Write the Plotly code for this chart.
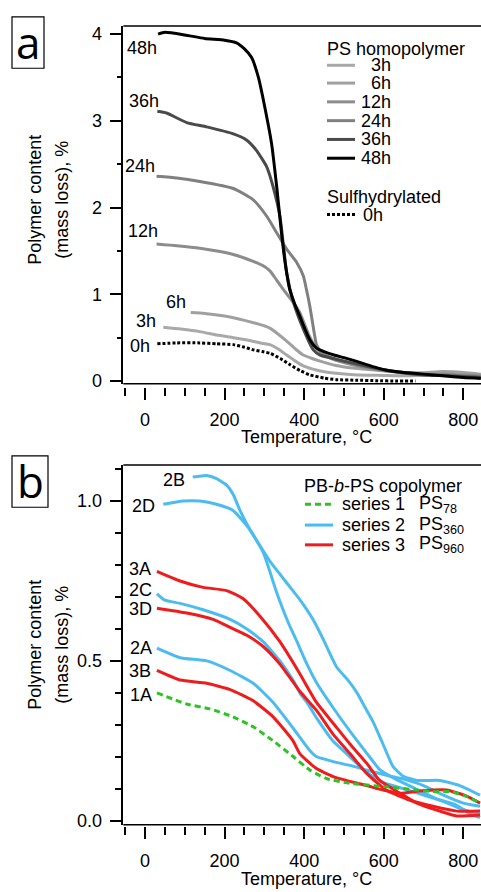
import plotly.graph_objects as go

W, H = 481, 892

# ---------------- Panel a : PS homopolymer ----------------
a_names = ["3h", "6h", "12h", "24h", "36h", "48h"]
a_colors = ["#a9a9a9", "#a0a0a0", "#8c8c8c", "#808080", "#4a4a4a", "#000000"]

a_x_3h = [46, 90, 138, 180, 222, 260, 290, 314, 335, 356, 378, 398, 420, 440, 480, 523, 600, 649, 700, 766, 844]
a_y_3h = [0.62, 0.60, 0.57, 0.53, 0.50, 0.47, 0.44, 0.42, 0.37, 0.30, 0.23, 0.175, 0.14, 0.117, 0.09, 0.073, 0.065, 0.06, 0.065, 0.07, 0.06]

a_x_6h = [115, 150, 200, 250, 290, 314, 335, 356, 378, 398, 420, 440, 480, 523, 570, 607, 650, 691, 749, 800, 844]
a_y_6h = [0.79, 0.78, 0.75, 0.70, 0.65, 0.61, 0.54, 0.46, 0.37, 0.30, 0.26, 0.23, 0.18, 0.15, 0.13, 0.115, 0.10, 0.095, 0.11, 0.10, 0.08]

a_x_12h = [29, 80, 138, 222, 272, 300, 314, 330, 347, 372, 390, 410, 430, 450, 480, 520, 560, 600, 650, 700, 760, 844]
a_y_12h = [1.58, 1.56, 1.53, 1.46, 1.38, 1.32, 1.27, 1.17, 1.06, 0.91, 0.78, 0.55, 0.38, 0.30, 0.24, 0.19, 0.15, 0.12, 0.10, 0.08, 0.08, 0.06]

a_x_24h = [29, 80, 138, 222, 272, 306, 331, 356, 381, 398, 406, 414, 423, 431, 445, 480, 520, 560, 600, 650, 700, 760, 844]
a_y_24h = [2.36, 2.34, 2.30, 2.22, 2.09, 1.90, 1.71, 1.52, 1.37, 1.21, 1.05, 0.87, 0.62, 0.42, 0.32, 0.25, 0.20, 0.16, 0.13, 0.10, 0.08, 0.07, 0.05]

a_x_36h = [31, 54, 105, 155, 222, 255, 280, 306, 322, 339, 348, 356, 373, 397, 423, 440, 473, 520, 557, 600, 640, 700, 760, 844]
a_y_36h = [3.11, 3.09, 2.98, 2.93, 2.85, 2.78, 2.66, 2.47, 2.24, 1.90, 1.56, 1.25, 0.91, 0.61, 0.36, 0.30, 0.26, 0.21, 0.17, 0.13, 0.10, 0.07, 0.06, 0.04]

a_x_48h = [33, 50, 100, 150, 200, 230, 250, 268, 285, 301, 318, 331, 343, 352, 364, 377, 389, 402, 415, 431, 450, 475, 500, 530, 557, 582, 607, 650, 700, 750, 800, 844]
a_y_48h = [4.00, 4.02, 3.99, 3.95, 3.93, 3.90, 3.83, 3.73, 3.50, 3.16, 2.74, 2.24, 1.71, 1.37, 1.05, 0.88, 0.75, 0.60, 0.47, 0.38, 0.34, 0.30, 0.27, 0.23, 0.19, 0.155, 0.125, 0.10, 0.08, 0.06, 0.04, 0.03]

a_x_0h = [31, 80, 138, 180, 222, 250, 272, 295, 314, 340, 364, 390, 415, 450, 481, 530, 580, 633, 680]
a_y_0h = [0.43, 0.44, 0.44, 0.43, 0.42, 0.39, 0.36, 0.34, 0.32, 0.26, 0.19, 0.12, 0.07, 0.035, 0.016, 0.01, 0.005, 0.0, 0.0]

a_xs = [a_x_3h, a_x_6h, a_x_12h, a_x_24h, a_x_36h, a_x_48h]
a_ys = [a_y_3h, a_y_6h, a_y_12h, a_y_24h, a_y_36h, a_y_48h]

# ---------------- Panel b : PB-b-PS copolymer ----------------
b_series_names = ["series 1", "series 2", "series 3"]
b_series_sub = ["78", "360", "960"]
b_series_colors = ["#2cc323", "#4cbcf0", "#ee1c1c"]

b_x_1A = [30, 105, 163, 221, 272, 322, 373, 415, 456, 515, 599, 683, 724, 766, 808, 842]
b_y_1A = [0.40, 0.365, 0.35, 0.325, 0.294, 0.25, 0.20, 0.158, 0.132, 0.117, 0.107, 0.096, 0.091, 0.091, 0.076, 0.055]

b_x_2A = [30, 88, 155, 214, 272, 322, 372, 414, 432, 473, 515, 558, 607, 650, 700, 750, 800, 842]
b_y_2A = [0.54, 0.51, 0.50, 0.47, 0.43, 0.37, 0.29, 0.22, 0.20, 0.185, 0.173, 0.158, 0.142, 0.13, 0.11, 0.08, 0.055, 0.045]

b_x_2B = [120, 155, 180, 205, 222, 239, 264, 289, 315, 340, 365, 390, 422, 447, 482, 510, 533, 555, 573, 598, 623, 648, 683, 741, 791, 842]
b_y_2B = [1.075, 1.08, 1.07, 1.05, 1.02, 0.97, 0.91, 0.86, 0.81, 0.77, 0.73, 0.69, 0.63, 0.57, 0.48, 0.44, 0.40, 0.35, 0.31, 0.24, 0.17, 0.14, 0.126, 0.126, 0.11, 0.08]

b_x_2C = [30, 50, 88, 146, 214, 256, 297, 339, 372, 389, 407, 432, 472, 515, 558, 598, 650, 700, 750, 800, 842]
b_y_2C = [0.71, 0.69, 0.68, 0.66, 0.63, 0.60, 0.56, 0.50, 0.44, 0.40, 0.37, 0.32, 0.25, 0.20, 0.15, 0.12, 0.10, 0.08, 0.06, 0.035, 0.02]

b_x_2D = [46, 96, 138, 180, 222, 264, 297, 332, 360, 382, 407, 432, 472, 515, 558, 590, 630, 680, 730, 780, 820, 842]
b_y_2D = [0.99, 1.0, 1.0, 0.99, 0.97, 0.91, 0.84, 0.71, 0.62, 0.56, 0.49, 0.43, 0.355, 0.28, 0.21, 0.16, 0.13, 0.10, 0.07, 0.05, 0.02, 0.01]

b_x_3A = [30, 88, 146, 205, 246, 289, 339, 389, 431, 473, 515, 557, 590, 641, 683, 741, 783, 842]
b_y_3A = [0.78, 0.75, 0.73, 0.72, 0.695, 0.64, 0.56, 0.46, 0.37, 0.305, 0.24, 0.18, 0.126, 0.086, 0.055, 0.03, 0.015, 0.018]

b_x_3B = [30, 88, 155, 214, 272, 322, 372, 389, 431, 473, 515, 557, 598, 641, 683, 724, 758, 808, 842]
b_y_3B = [0.47, 0.44, 0.43, 0.41, 0.375, 0.325, 0.25, 0.21, 0.163, 0.138, 0.123, 0.11, 0.096, 0.086, 0.092, 0.096, 0.096, 0.077, 0.055]

b_x_3D = [30, 105, 171, 214, 256, 297, 339, 389, 431, 473, 515, 557, 607, 666, 724, 783, 842]
b_y_3D = [0.665, 0.65, 0.63, 0.605, 0.58, 0.545, 0.49, 0.405, 0.345, 0.27, 0.21, 0.148, 0.095, 0.064, 0.045, 0.03, 0.03]

b_curves = [  # (label, series index, x, y)
    ("2B", 1, b_x_2B, b_y_2B), ("2D", 1, b_x_2D, b_y_2D), ("2C", 1, b_x_2C, b_y_2C),
    ("2A", 1, b_x_2A, b_y_2A), ("3A", 2, b_x_3A, b_y_3A), ("3D", 2, b_x_3D, b_y_3D),
    ("3B", 2, b_x_3B, b_y_3B), ("1A", 0, b_x_1A, b_y_1A),
]

x_ticks = [0, 200, 400, 600, 800]

# ---------------- helpers (pixel -> paper) ----------------
def px(x):
    return x / W

def py(y):
    return 1 - y / H

FONT = "'Liberation Sans', Arial, Helvetica, sans-serif"

fig = go.Figure()

for name, col, xs, ys in zip(a_names, a_colors, a_xs, a_ys):
    fig.add_trace(go.Scatter(x=xs, y=ys, mode="lines", name=name,
                             line=dict(color=col, width=3, shape="spline", smoothing=0.5),
                             xaxis="x", yaxis="y", showlegend=False))
fig.add_trace(go.Scatter(x=a_x_0h, y=a_y_0h, mode="lines", name="0h",
                         line=dict(color="black", width=3, dash="3px,2px", shape="spline", smoothing=0.5),
                         xaxis="x", yaxis="y", showlegend=False))

for lab, si, xs, ys in b_curves:
    dash = "6px,4px" if si == 0 else "solid"
    fig.add_trace(go.Scatter(x=xs, y=ys, mode="lines", name=lab,
                             line=dict(color=b_series_colors[si], width=3, dash=dash, shape="spline", smoothing=0.5),
                             xaxis="x2", yaxis="y2", showlegend=False))

# ---------------- geometry ----------------
left = 123.3
a_top, a_bot = 24.3, 386.0
b_top, b_bot = 468.3, 832.0
x_range = [-54.5, 844.4]

def xaxis_cfg(pos, standoff):
    return dict(domain=[px(left), 1], range=x_range, anchor="free", position=pos,
                showline=False, showgrid=False, zeroline=False,
                ticks="outside", ticklen=12, tickwidth=1.5, tickcolor="black",
                tickvals=x_ticks, ticktext=[str(v) for v in x_ticks],
                ticklabelstandoff=standoff,
                tickfont=dict(family=FONT, size=18, color="black"),
                minor=dict(ticks="outside", ticklen=8, tickwidth=1.5, tickcolor="black",
                           tick0=0, dtick=50, showgrid=False))

def yaxis_cfg(anchor, dom, rng, dtick, mdtick, mlen, fmt, standoff):
    return dict(domain=dom, range=rng, anchor=anchor, showline=True, linewidth=1.5, linecolor="black",
                showgrid=False, zeroline=False, ticks="outside", ticklen=12, tickwidth=1.5,
                tickcolor="black", dtick=dtick, tick0=0, tickformat=fmt,
                ticklabelstandoff=standoff,
                tickfont=dict(family=FONT, size=18, color="black"),
                minor=dict(ticks="outside", ticklen=mlen, tickwidth=1.5, tickcolor="black",
                           tick0=0, dtick=mdtick, showgrid=False))

layout = dict(
    width=W, height=H, margin=dict(l=0, r=0, t=0, b=0),
    paper_bgcolor="white", plot_bgcolor="white",
    font=dict(family=FONT, size=18, color="black"),
    xaxis=xaxis_cfg(py(a_bot + 3), 5),
    yaxis=yaxis_cfg("x", [py(a_bot), py(a_top)], [-0.03, 4.093], 1, 0.5, 5, "d", 4),
    xaxis2=xaxis_cfg(py(b_bot + 1), 7),
    yaxis2=yaxis_cfg("x2", [py(b_bot), py(b_top)], [-0.0124, 1.1127], 0.5, 0.1, 7, ".1f", 4),
)

shapes = []
annotations = []
# frame top/bottom lines
for yy in (a_top, a_bot, b_top, b_bot):
    shapes.append(dict(type="line", xref="paper", yref="paper", x0=px(left), x1=1,
                       y0=py(yy), y1=py(yy), line=dict(color="black", width=1.5)))

def text(x, y, s, size=18, xanchor="center", family=FONT, angle=0):
    annotations.append(dict(x=px(x), y=py(y), xref="paper", yref="paper", text=s, showarrow=False,
                            xanchor=xanchor, yanchor="middle", textangle=angle,
                            font=dict(family=family, size=size, color="black")))

# panel letters with boxes
for (x0, y0, x1, y1, letter) in [(12, 15, 44, 67, "a"), (12, 459, 48, 511, "b")]:
    shapes.append(dict(type="rect", xref="paper", yref="paper", x0=px(x0), x1=px(x1),
                       y0=py(y1), y1=py(y0), line=dict(color="black", width=1.2)))
    text((x0 + x1) / 2, (y0 + y1) / 2 - 1, letter, size=44, family="'Open Sans', sans-serif")

# axis titles
for yc in (200, 650):
    text(35, yc, "Polymer content", angle=-90)
    text(62, yc, "(mass loss), %", angle=-90)
text(306, 440, "Temperature, \u00b0C")
text(306, 887, "Temperature, \u00b0C")

# panel a curve labels
a_label_pos = {"48h": (142, 47), "36h": (144, 100), "24h": (140, 166), "12h": (143, 232),
               "6h": (176, 303), "3h": (146, 323), "0h": (140, 348)}
for k, (x, y) in a_label_pos.items():
    text(x, y, k)

# panel a legend
text(325, 47.5, "PS homopolymer", xanchor="left")
a_leg_y = [64, 82, 101, 120, 139, 158]
for name, col, yy in zip(a_names, a_colors, a_leg_y):
    shapes.append(dict(type="line", xref="paper", yref="paper", x0=px(327), x1=px(355),
                       y0=py(yy), y1=py(yy), line=dict(color=col, width=3)))
    text(393, yy, name, xanchor="right")
text(325, 197, "Sulfhydrylated", xanchor="left")
shapes.append(dict(type="line", xref="paper", yref="paper", x0=px(327), x1=px(355),
                   y0=py(215), y1=py(215), line=dict(color="black", width=3, dash="3px,2px")))
text(361, 215, "0h", xanchor="left")

# panel b curve labels
b_label_pos = {"2B": (174, 483), "2D": (143, 510), "3A": (140, 573), "2C": (140, 595),
               "3D": (140, 614), "2A": (141, 653), "3B": (140, 677), "1A": (141, 701)}
for k, (x, y) in b_label_pos.items():
    text(x, y, k)

# panel b legend
text(302, 489, "PB-<i>b</i>-PS copolymer", xanchor="left")
b_leg_y = [508, 529, 549]
for i, yy in enumerate(b_leg_y):
    dash = "6px,4px" if i == 0 else "solid"
    shapes.append(dict(type="line", xref="paper", yref="paper", x0=px(305), x1=px(333),
                       y0=py(yy), y1=py(yy), line=dict(color=b_series_colors[i], width=3, dash=dash)))
    text(340, yy, b_series_names[i], xanchor="left")
    text(417, yy, "PS<sub>" + b_series_sub[i] + "</sub>", xanchor="left")

layout["shapes"] = shapes
layout["annotations"] = annotations
fig.update_layout(**layout)

fig.write_html("out.html", config={"displayModeBar": False},
               post_script="document.body.style.margin='0';document.body.style.overflow='hidden';")
